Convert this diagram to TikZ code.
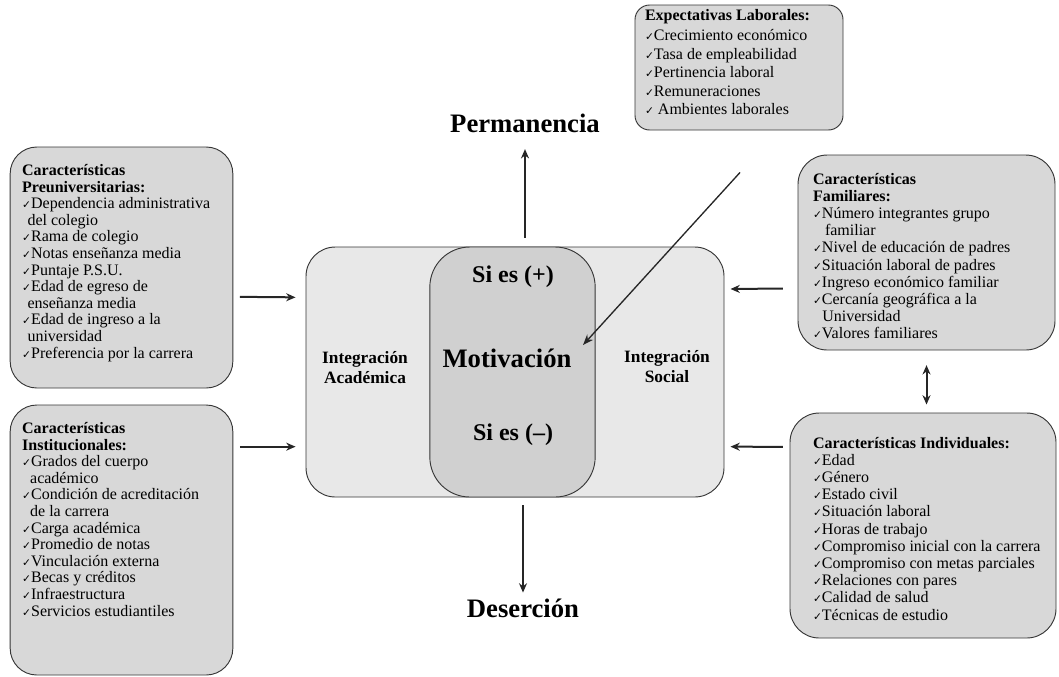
\documentclass[tikz,border=0pt]{standalone}
\usepackage{fontspec}
\setmainfont{Liberation Serif}
\newfontfamily\symfont{DejaVu Sans}
\usepackage{tikz}
\usetikzlibrary{arrows.meta}
\usetikzlibrary{calc}
\usetikzlibrary{positioning}
\usepackage{xcolor}
\definecolor{boxgray}{RGB}{216,216,216}
\definecolor{maingray}{RGB}{232,232,232}
\definecolor{motivgray}{RGB}{208,208,208}
\definecolor{linegray}{RGB}{55,55,55}
\newcommand{\chk}{{\symfont\fontsize{8}{8}\selectfont ✓}}
\tikzset{
cbox/.style={draw=linegray,
  fill=boxgray,
    line width=0.7pt,
    rounded corners=20pt,
    inner xsep=9pt,
    inner ysep=13pt,
    font=\fontsize{12}{12.45}\selectfont},
bigtxt/.style={font=\fontsize{20}{22}\selectfont\bfseries},
midtxt/.style={font=\fontsize{13}{15}\selectfont\bfseries,
  align=center},
}
\tikzset{arr/.style={-{Stealth[length=7pt,width=6pt]},line width=1.5pt,draw=black!85}}

\begin{document}
\begin{tikzpicture}[x=0.75pt,y=-0.75pt]
    \useasboundingbox (0,0) rectangle (1059,676);

    \node [draw=linegray, fill=maingray, line width=0.7pt, rounded corners=22pt, minimum width=313.5pt, minimum height=187.5pt] (mainb) at (515,372) {};
    \node [draw=linegray, fill=motivgray, line width=0.7pt, rounded corners=30pt, minimum width=124pt, minimum height=187.5pt] (motivb) at (512.5,372) {};

    \node [font=\fontsize{18}{20}\selectfont\bfseries] (sip) at (513,277) {Si es (+)};
    \node [font=\fontsize{20}{22}\selectfont\bfseries] (motiv) at (507,358) {Motivación};
    \node [font=\fontsize{18}{20}\selectfont\bfseries] (sin) at (513,435) {Si es (\textendash)};
    \node [midtxt] (iacad) at (365,368) {Integración\\Académica};
    \node [midtxt] (isoc) at (667,367) {Integración\\Social};

    \node [bigtxt] (perm) at (525,123) {Permanencia};
    \node [bigtxt] (deser) at (523,608) {Deserción};

    \node [cbox] (pre) at (121.5,267.5) {\parbox[c][154.75pt][t]{149pt}{\raggedright
      \textbf{Características}\\
      \textbf{Preuniversitarias:}\\
      \chk Dependencia administrativa\\
      \hspace*{4pt}del colegio\\
      \chk Rama de colegio\\
      \chk Notas enseñanza media\\
      \chk Puntaje P.S.U.\\
      \chk Edad de egreso de\\
      \hspace*{4pt}enseñanza media\\
      \chk Edad de ingreso a la\\
      \hspace*{4pt}universidad\\
      \chk Preferencia por la carrera}};

    \node [cbox] (inst) at (121.5,540) {\parbox[c][176.5pt][t]{149pt}{\raggedright
      \textbf{Características}\\
      \textbf{Institucionales:}\\
      \chk Grados del cuerpo\\
      \hspace*{6pt}académico\\
      \chk Condición de acreditación\\
      \hspace*{6pt}de la carrera\\
      \chk Carga académica\\
      \chk Promedio de notas\\
      \chk Vinculación externa\\
      \chk Becas y créditos\\
      \chk Infraestructura\\
      \chk Servicios estudiantiles}};

    \node [cbox, rounded corners=11pt, inner xsep=7.5pt, inner ysep=3pt] (expl) at (739,67.5) {\parbox[c][87.75pt][t]{141pt}{\raggedright\baselineskip=13.9pt
      \textbf{Expectativas Laborales:}\\[1.5pt]
      \chk Crecimiento económico\\
      \chk Tasa de empleabilidad\\
      \chk Pertinencia laboral\\
      \chk Remuneraciones\\
      \chk\ Ambientes laborales}};

    \node [cbox, rounded corners=22pt, inner xsep=11.25pt, inner ysep=13.5pt] (fam) at (926.5,252.5) {\parbox[c][119.25pt][t]{170.25pt}{\raggedright\baselineskip=12.9pt
      \textbf{Características}\\
      \textbf{Familiares:}\\
      \chk Número integrantes grupo\\
      \hspace*{9pt}familiar\\
      \chk Nivel de educación de padres\\
      \chk Situación laboral de padres\\
      \chk Ingreso económico familiar\\
      \chk Cercanía geográfica a la\\
      \hspace*{7pt}Universidad\\
      \chk Valores familiares}};

    \node [cbox, rounded corners=22pt, inner xsep=10pt, inner ysep=15pt] (ind) at (923,525.5) {\parbox[c][138.75pt][t]{179.5pt}{\raggedright\leftskip=7.25pt\baselineskip=12.9pt
      \vspace*{3pt}\textbf{Características Individuales:}\\
      \chk Edad\\
      \chk Género\\
      \chk Estado civil\\
      \chk Situación laboral\\
      \chk Horas de trabajo\\
      \chk Compromiso inicial con la carrera\\
      \chk Compromiso con metas parciales\\
      \chk Relaciones con pares\\
      \chk Calidad de salud\\
      \chk Técnicas de estudio}};

  \draw [arr, shorten <=6.75pt, shorten >=9pt] (mainb.north -| perm.south) -- (perm.south);
  \draw [arr, shorten <=6pt, shorten >=1pt] (mainb.south -| deser.north) -- (deser.north);

  \draw [arr] ($(pre.east)+(5pt,-22pt)$) -- ($(mainb.west)+(-7.5pt,56pt)$);
  \draw [arr] ($(inst.east)+(5pt,70pt)$) -- ($(mainb.west)+(-7.5pt,-56pt)$);
  \draw [arr] ($(fam.west)+(-11pt,-27pt)$) -- ($(mainb.east)+(4.5pt,62.25pt)$);
  \draw [arr] ($(ind.west)+(-5pt,59pt)$) -- ($(mainb.east)+(4.5pt,-56pt)$);

  \draw [arr, {Stealth[length=7pt,width=6pt]}-{Stealth[length=7pt,width=6pt]}, shorten <=11pt, shorten >=6pt] (fam.south) -- (fam.south |- ind.north);

  \draw [arr, -{Stealth[length=8pt,width=6pt]}, line width=1pt] ($(expl.south)+(0.75pt,-31.5pt)$) -- ($(mainb.center)+(51pt,20.25pt)$);
  \end{tikzpicture}
\end{document}
